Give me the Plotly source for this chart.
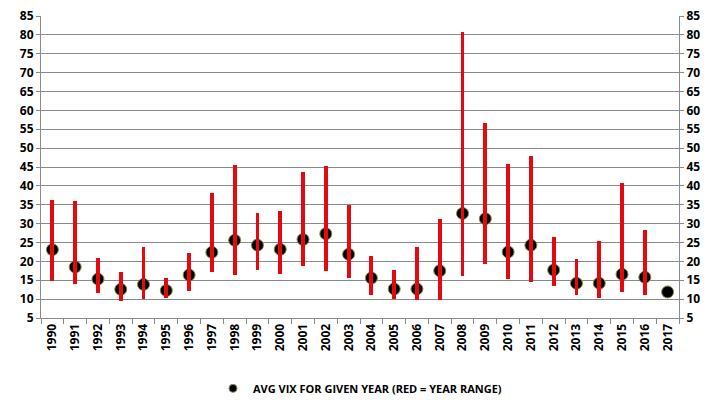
import plotly.graph_objects as go

# VIX by year: average, and the year's low / high (red range bar)
years = [str(y) for y in range(1990, 2018)]
vix_avg = [23.1, 18.5, 15.3, 12.6, 13.9, 12.3, 16.4, 22.4, 25.6, 24.3,
           23.2, 25.8, 27.3, 21.9, 15.6, 12.7, 12.7, 17.5, 32.7, 31.3,
           22.5, 24.3, 17.7, 14.2, 14.2, 16.6, 15.8, 11.9]
vix_low = [14.8, 13.9, 11.5, 9.4, 9.95, 10.3, 12.1, 17.1, 16.3, 17.6,
           16.6, 18.9, 17.4, 15.7, 11.2, 10.1, 9.9, 9.9, 16.2, 19.4,
           15.4, 14.5, 13.5, 11.2, 10.3, 12.0, 11.2, None]
vix_high = [36.3, 36.0, 20.9, 17.2, 23.8, 15.6, 22.1, 38.2, 45.6, 32.8,
            33.3, 43.7, 45.2, 34.9, 21.4, 17.8, 23.8, 31.1, 80.8, 56.7,
            45.9, 48.0, 26.5, 20.5, 25.3, 40.8, 28.2, None]

span = [h - l if h is not None else None for h, l in zip(vix_high, vix_low)]

font_name = "Open Sans"
legend_label = "AVG VIX FOR GIVEN YEAR (RED = YEAR RANGE)"

fig = go.Figure()

# red year range bars
fig.add_trace(go.Bar(
    x=years,
    y=span,
    base=vix_low,
    width=0.17,
    marker=dict(color="#e3090f", line=dict(width=0)),
    showlegend=False,
    hoverinfo="skip",
    yaxis="y2",
))

# average dots
fig.add_trace(go.Scatter(
    x=years,
    y=vix_avg,
    mode="markers",
    name=legend_label,
    showlegend=False,
    marker=dict(size=12, color="#000000", line=dict(color="#8c8c4a", width=1)),
))

# legend-only entry with a smaller dot, like the original
fig.add_trace(go.Scatter(
    x=[years[0]],
    y=[None],
    mode="markers",
    name=legend_label,
    marker=dict(size=8, color="#000000", line=dict(color="#8c8c4a", width=1)),
))

yax = dict(
    range=[5, 85],
    tick0=5,
    dtick=5,
    showgrid=True,
    gridcolor="#8a8a8a",
    gridwidth=1,
    showline=True,
    linecolor="#8a8a8a",
    ticks="outside",
    ticklen=4,
    tickcolor="#8a8a8a",
    zeroline=False,
    automargin=False,
    ticklabeloverflow="allow",
    tickfont=dict(family=font_name, size=12, color="#000000", weight="bold"),
)

# the page body adds an 8px offset, so margins are trimmed on the top/left
fig.update_layout(
    width=722,
    height=405,
    margin=dict(l=33, r=51, t=8, b=95),
    plot_bgcolor="white",
    paper_bgcolor="white",
    bargap=0,
    xaxis=dict(
        type="category",
        categoryorder="array",
        categoryarray=years,
        range=[-0.5, len(years) - 0.5],
        tickangle=-90,
        ticks="outside",
        tickson="boundaries",
        ticklen=5,
        tickcolor="#8a8a8a",
        showline=True,
        linecolor="#8a8a8a",
        showgrid=False,
        automargin=False,
        tickfont=dict(family=font_name, size=12, color="#000000", weight="bold"),
    ),
    yaxis=yax,
    yaxis2=dict(yax, overlaying="y", side="right", showgrid=False),
    legend=dict(
        orientation="h",
        x=0.5,
        xanchor="center",
        y=-0.185,
        yanchor="top",
        itemwidth=30,
        font=dict(family=font_name, size=11, color="#000000", weight="bold"),
    ),
)

fig.write_html("out.html")
